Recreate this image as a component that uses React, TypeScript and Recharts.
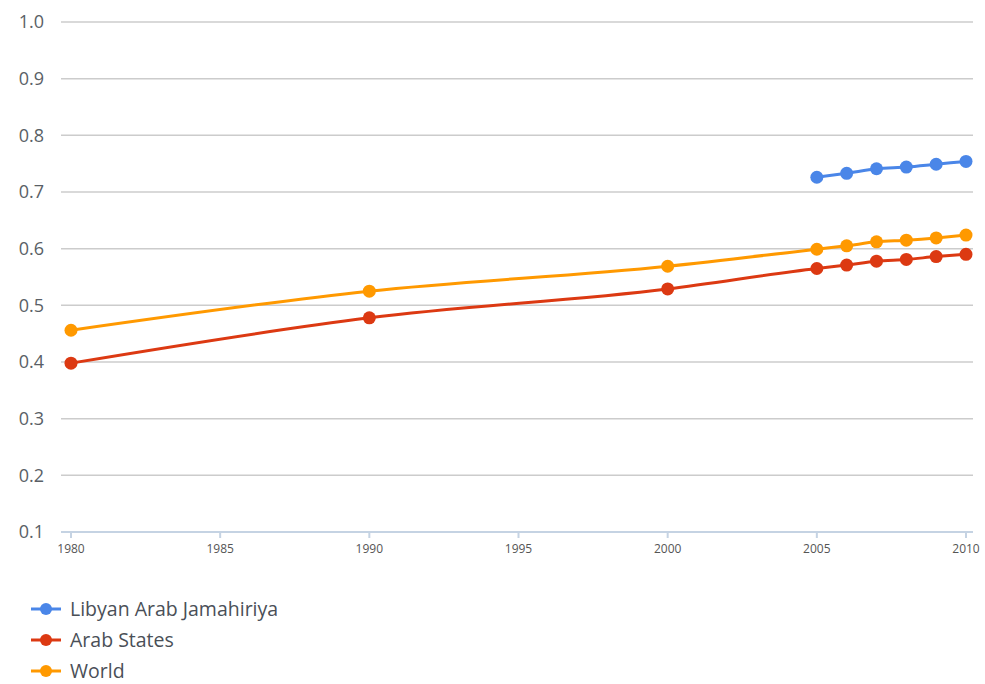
import React from 'react';
import { LineChart, Line, XAxis, YAxis, CartesianGrid } from 'recharts';

// values
const years = [1980, 1990, 2000, 2005, 2006, 2007, 2008, 2009, 2010];
const libya = [null, null, null, 0.726, 0.733, 0.741, 0.744, 0.749, 0.754];
const arabStates = [0.398, 0.478, 0.529, 0.565, 0.571, 0.578, 0.581, 0.586, 0.59];
const world = [0.456, 0.525, 0.569, 0.599, 0.605, 0.612, 0.615, 0.619, 0.624];

const xTicks = [1980, 1985, 1990, 1995, 2000, 2005, 2010];
const yTicks = [0.1, 0.2, 0.3, 0.4, 0.5, 0.6, 0.7, 0.8, 0.9, 1.0];

const series = [
  { key: 'libya', name: 'Libyan Arab Jamahiriya', color: '#4a86e8' },
  { key: 'arab', name: 'Arab States', color: '#dc3912' },
  { key: 'world', name: 'World', color: '#ff9900' },
];

const data = years.map((year, i) => ({
  year,
  libya: libya[i],
  arab: arabStates[i],
  world: world[i],
}));

const font = '"Open Sans", sans-serif';

export default function App() {
  return (
    <div style={{ position: 'absolute', left: 0, top: 0, width: 985, height: 684, background: '#fff', fontFamily: font }}>
      <LineChart width={985} height={684} data={data} margin={{ top: 22, right: 12, bottom: 122, left: 0 }}>
        <CartesianGrid vertical={false} stroke="#cccccc" strokeWidth={1.5} />
        <XAxis
          dataKey="year"
          type="number"
          domain={[1980, 2010]}
          ticks={xTicks}
          padding={{ left: 10, right: 7 }}
          height={30}
          stroke="#c5d3e3"
          strokeWidth={2}
          tickSize={6}
          tickMargin={6}
          tick={{ fill: '#555555', fontSize: 12, fontFamily: font }}
        />
        <YAxis
          type="number"
          domain={[0.1, 1.0]}
          ticks={yTicks}
          width={61}
          axisLine={false}
          tickLine={false}
          tickSize={0}
          tickMargin={17}
          tickFormatter={(v: number) => v.toFixed(1)}
          tick={{ fill: '#5a5f66', fontSize: 18, fontFamily: font }}
        />
        {series.map((s) => (
          <Line
            key={s.key}
            dataKey={s.key}
            name={s.name}
            type="monotone"
            stroke={s.color}
            strokeWidth={3}
            dot={{ r: 6.5, fill: s.color, stroke: s.color, strokeWidth: 0 }}
            activeDot={false}
            connectNulls={false}
            isAnimationActive={false}
          />
        ))}
      </LineChart>
      {series.map((s, i) => (
        <div
          key={s.key}
          style={{ position: 'absolute', left: 30, top: 600 + i * 31, height: 18, display: 'flex', alignItems: 'center' }}
        >
          <svg width={32} height={16} style={{ marginRight: 8 }}>
            <line x1={1} y1={8} x2={31} y2={8} stroke={s.color} strokeWidth={3} />
            <circle cx={16} cy={8} r={6} fill={s.color} />
          </svg>
          <span style={{ fontSize: 19.5, lineHeight: '18px', color: '#4a4f57' }}>{s.name}</span>
        </div>
      ))}
    </div>
  );
}
